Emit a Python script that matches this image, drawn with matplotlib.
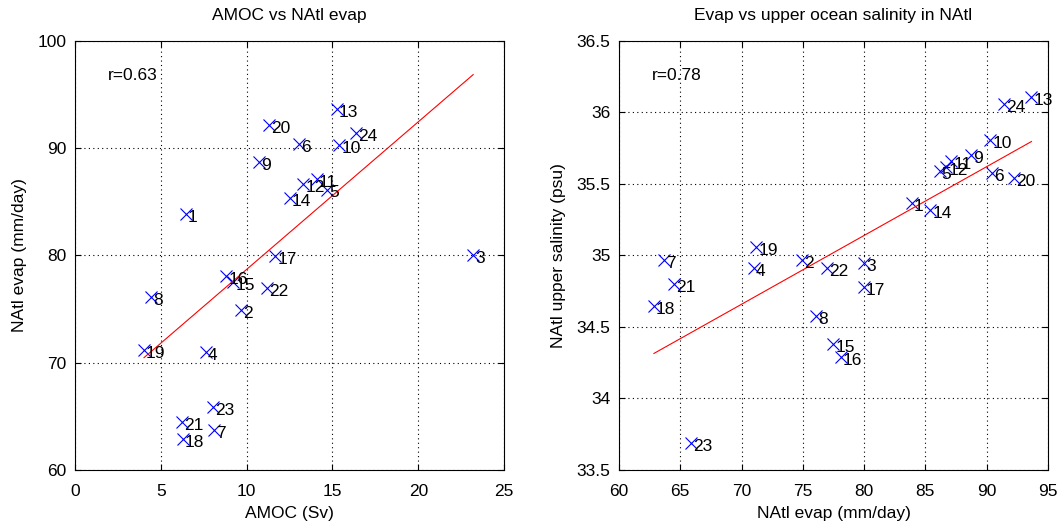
import numpy as np
import matplotlib
matplotlib.use('Agg')
import matplotlib.pyplot as plt

plt.rcParams['font.family'] = ['Liberation Sans', 'DejaVu Sans']

# model index 1..24
labels = [str(i) for i in range(1, 25)]
amoc = [6.45, 9.65, 23.2, 7.63, 14.7, 13.07, 8.1, 4.45, 10.74, 15.4, 14.1, 13.3,
        15.25, 12.5, 9.22, 8.8, 11.67, 6.27, 4.02, 11.3, 6.22, 11.17, 8.06, 16.4]
evap = [83.9, 74.95, 80.0, 71.0, 86.15, 90.4, 63.7, 76.1, 88.7, 90.3, 87.1, 86.7,
        93.65, 85.4, 77.5, 78.1, 79.95, 62.85, 71.2, 92.2, 64.5, 77.0, 65.9, 91.45]
salt = [35.37, 34.97, 34.95, 34.91, 35.59, 35.58, 34.97, 34.58, 35.70, 35.81, 35.66, 35.62,
        36.11, 35.32, 34.38, 34.29, 34.78, 34.65, 35.06, 35.54, 34.80, 34.91, 33.69, 36.06]

amoc_ticks = [0, 5, 10, 15, 20, 25]
evap_ticks = [60, 70, 80, 90, 100]
evap_ticks2 = [60, 65, 70, 75, 80, 85, 90, 95]
salt_ticks = [33.5, 34, 34.5, 35, 35.5, 36, 36.5]

fs = 12.5


def panel(ax, x, y, title, xlab, ylab, rtxt, xt, yt, ytl):
    x = np.array(x)
    y = np.array(y)
    ax.plot(x, y, 'x', color='blue', markersize=8, markeredgewidth=0.8)
    for xi, yi, s in zip(x, y, labels):
        ax.annotate(s, (xi, yi), xytext=(1.5, -2.5), textcoords='offset points',
                    ha='left', va='center', fontsize=fs)
    p = np.polyfit(x, y, 1)
    xx = np.array([x.min(), x.max()])
    ax.plot(xx, np.polyval(p, xx), color='red', linewidth=0.8)
    ax.text(0.077, 0.92, rtxt, transform=ax.transAxes, ha='left', va='center', fontsize=fs)
    ax.set_xlim(xt[0], xt[-1])
    ax.set_ylim(yt[0], yt[-1])
    ax.set_xticks(xt)
    ax.set_yticks(yt)
    ax.set_yticklabels(ytl)
    ax.grid(True, linestyle=(0, (1, 3)), color='black', linewidth=0.8)
    ax.tick_params(direction='in', top=True, right=True, labelsize=fs, length=4)
    ax.tick_params(axis='x', pad=10)
    ax.tick_params(axis='y', pad=6)
    ax.set_title(title, fontsize=fs, pad=15)
    ax.set_xlabel(xlab, fontsize=fs, labelpad=5)
    ax.set_ylabel(ylab, fontsize=fs, labelpad=8)
    for sp in ax.spines.values():
        sp.set_linewidth(0.8)


fig = plt.figure(figsize=(10.63, 5.26), dpi=100)
ax1 = fig.add_axes([0.0706, 0.1065, 0.4036, 0.8156])
ax2 = fig.add_axes([0.5823, 0.1065, 0.4036, 0.8156])

panel(ax1, amoc, evap, 'AMOC vs NAtl evap', 'AMOC (Sv)', 'NAtl evap (mm/day)',
      'r=0.63', amoc_ticks, evap_ticks, [str(v) for v in evap_ticks])
panel(ax2, evap, salt, 'Evap vs upper ocean salinity in NAtl', 'NAtl evap (mm/day)',
      'NAtl upper salinity (psu)', 'r=0.78', evap_ticks2, salt_ticks,
      ['33.5', '34', '34.5', '35', '35.5', '36', '36.5'])

fig.savefig('out.png', dpi=100)
plt.close()
